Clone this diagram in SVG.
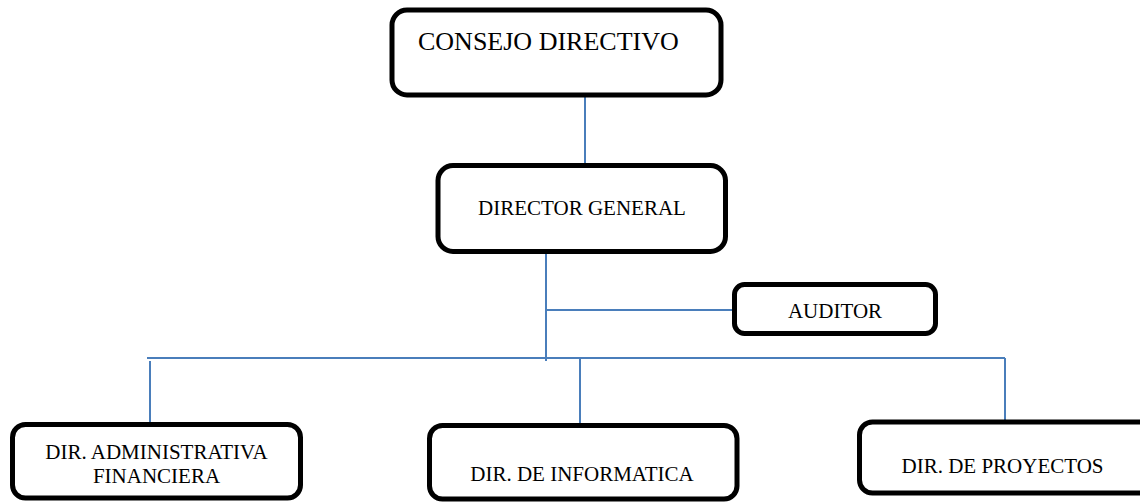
<svg xmlns="http://www.w3.org/2000/svg" width="1140" height="502" viewBox="0 0 1140 502">
  <style>
    .box { fill: #ffffff; stroke: #000000; stroke-width: 5; }
    .lbl { font-family: "Liberation Serif", "Times New Roman", serif; fill: #000000; font-size: 21px; text-anchor: middle; }
    .conn line { stroke: #4a7ebb; stroke-width: 2; fill: none; }
  </style>
  <rect width="1140" height="502" fill="#ffffff"/>

  <!-- connectors -->
  <g id="connectors" class="conn">
    <line x1="585" y1="97" x2="585" y2="163"/>
    <line x1="546" y1="253" x2="546" y2="361"/>
    <line x1="546" y1="310" x2="733" y2="310"/>
    <line x1="147" y1="358" x2="1005" y2="358"/>
    <line x1="150" y1="361" x2="150" y2="422"/>
    <line x1="580" y1="358" x2="580" y2="423"/>
    <line x1="1005" y1="358" x2="1005" y2="420"/>
  </g>

  <g id="consejo-directivo">
    <rect class="box" x="392" y="10" width="329" height="85" rx="15"/>
    <text class="lbl" x="418" y="50" style="font-size:26px;text-anchor:start">CONSEJO DIRECTIVO</text>
  </g>

  <g id="director-general">
    <rect class="box" x="438" y="165.5" width="287.5" height="86" rx="15"/>
    <text class="lbl" x="582" y="215">DIRECTOR GENERAL</text>
  </g>

  <g id="auditor">
    <rect class="box" x="734.5" y="284.5" width="201" height="49" rx="10"/>
    <text class="lbl" x="835" y="318">AUDITOR</text>
  </g>

  <g id="dir-administrativa">
    <rect class="box" x="12.5" y="424.5" width="288" height="73.5" rx="13"/>
    <text class="lbl" x="156.5" y="459">DIR. ADMINISTRATIVA</text>
    <text class="lbl" x="156.5" y="483">FINANCIERA</text>
  </g>

  <g id="dir-informatica">
    <rect class="box" x="429.5" y="425.5" width="307.5" height="73.5" rx="13"/>
    <text class="lbl" x="582" y="481">DIR. DE INFORMATICA</text>
  </g>

  <g id="dir-proyectos">
    <rect class="box" x="859.5" y="422" width="300" height="71" rx="13"/>
    <text class="lbl" x="1002.5" y="473">DIR. DE PROYECTOS</text>
  </g>
</svg>
